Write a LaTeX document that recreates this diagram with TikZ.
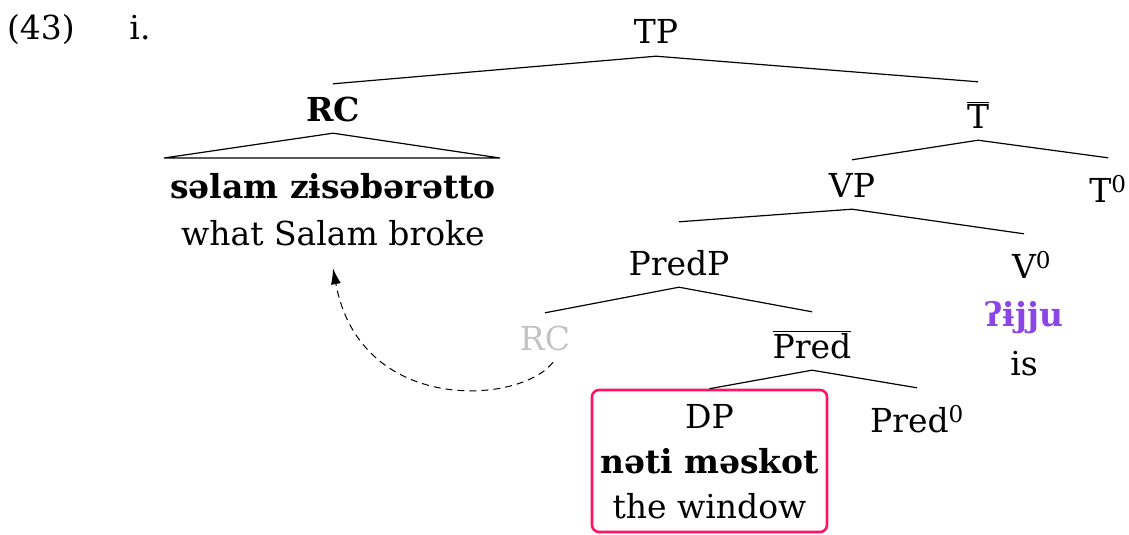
\documentclass[tikz,border=0pt]{standalone}
\usepackage{fontspec}
\setmainfont{DejaVu Serif}
\usetikzlibrary{arrows.meta}
\definecolor{boxpink}{RGB}{255,20,100}
\definecolor{vpurple}{RGB}{140,70,230}
\definecolor{ghost}{RGB}{195,195,195}
\begin{document}
\begin{tikzpicture}[x=1pt,y=-1pt,
  txt/.style={font=\fontsize{33}{40}\selectfont, inner xsep=0pt, anchor=base},
  tree/.style={txt, text height=25pt, text depth=0pt, inner ysep=12pt},
  barn/.style={tree, text height=34pt},
  supn/.style={tree, text height=32pt},
  edge/.style={line width=1.2pt},
  dp/.style={draw=boxpink, line width=2.6pt, rounded corners=7pt, minimum width=235pt, minimum height=142pt, inner sep=0pt}
]
\useasboundingbox (0,0) rectangle (1129,535);
% example label
\node[txt] (ex) at (41,40) {(43)};
\node[txt] (exi) at (140,40) {i.};
% tree nodes
\node[tree] (TP) at (656,44) {TP};
\node[tree] (RC) at (333,121) {\bfseries RC};
\node[txt, inner ysep=0pt] (rcw) at (333,198) {\bfseries səlam zɨsəbərətto};
\node[txt, text depth=0pt, inner ysep=23pt] (what) at (333,245) {what Salam broke};
\node[barn] (Tb) at (978,128) {$\overline{\mbox{T}}$};
\node[tree] (VP) at (852,197) {VP};
\node[supn] (T0) at (1108,202) {T\textsuperscript{0}};
\node[tree, text height=41pt] (PredP) at (679,275) {PredP};
\node[supn] (V0) at (1024,278) {V\rlap{\textsuperscript{0}}};
\node[txt, text=vpurple] (vw) at (1024,326) {\bfseries ʔɨjju};
\node[txt] (is) at (1024,375) {is};
\node[tree, text=ghost] (RCg) at (545,350) {RC};
\node[barn] (Pb) at (812,358) {$\overline{\mbox{Pred}}$};
\node[dp] (box) at (709.5,461) {};
\node[txt] (DP) at (709.5,428) {DP};
\node[txt] (dpw) at (709.5,473) {\bfseries nəti məskot};
\node[txt] (dpg) at (709.5,518) {the window};
\node[supn] (P0) at (917,432) {Pred\textsuperscript{0}};
% triangle corners
\coordinate (trl) at (164,158);
\coordinate (trr) at (500,158);
% edges
\draw[edge] (RC.north) -- (TP.south) -- (Tb.north);
\draw[edge] (RC.south) -- (trl) -- (trr) -- cycle;
\draw[edge] (VP.north) -- (Tb.south) -- (T0.north);
\draw[edge] (PredP.north) -- (VP.south) -- (V0.north);
\draw[edge] (RCg.north) -- (PredP.south) -- (Pb.north);
\draw[edge] (box.north) -- (Pb.south) -- (P0.north);
% movement arrow
\draw[line width=1pt, dash pattern=on 7pt off 5pt, -{Latex[length=16pt,width=10pt]}]
  ([xshift=8pt]RCg.south) .. controls (520,405) and (360,415) .. (what.south);
\end{tikzpicture}
\end{document}
